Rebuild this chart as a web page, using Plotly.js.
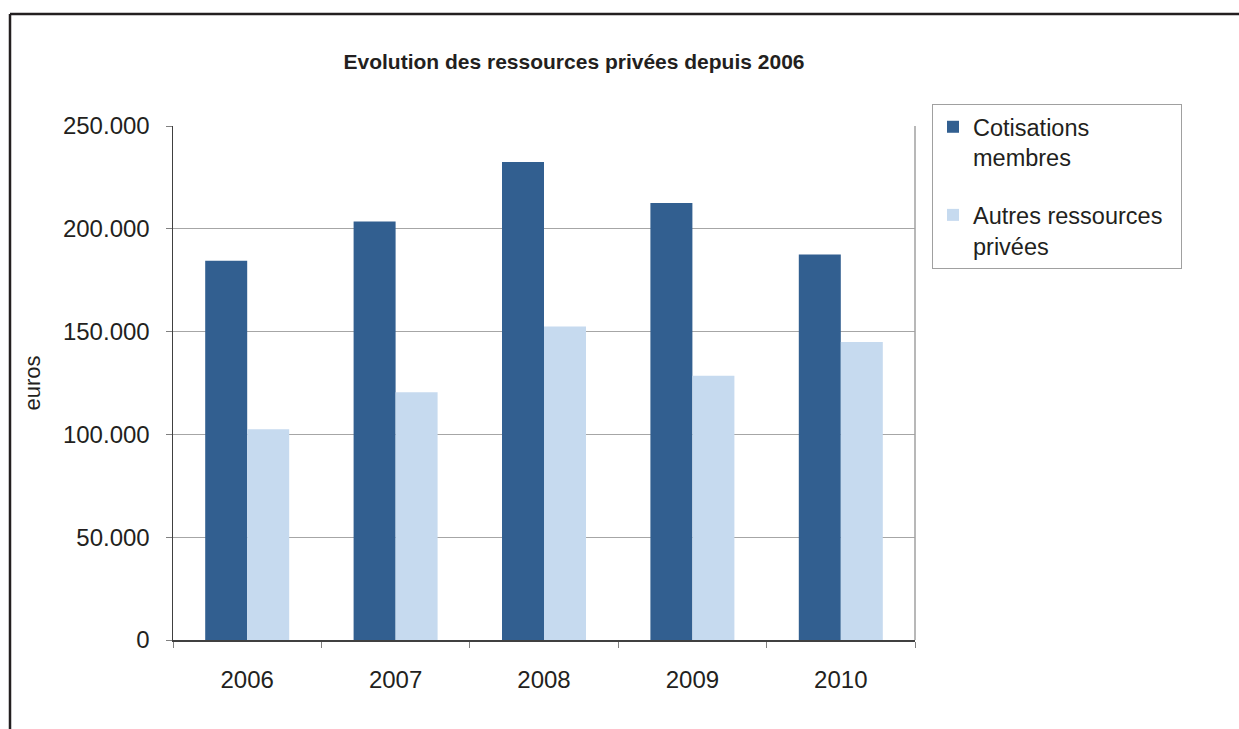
<!DOCTYPE html>
<html>
<head>
<meta charset="utf-8">
<script src="https://cdn.plot.ly/plotly-3.0.1.min.js"></script>
<style>html,body{margin:0;padding:0;background:#fff;}#chart{width:1239px;height:729px;}</style>
</head>
<body>
<div id="chart"></div>
<script>
const years = ['2006', '2007', '2008', '2009', '2010'];
const cotisationsMembres = [184500, 203500, 232500, 212500, 187500];
const autresRessources = [102500, 120500, 152500, 128500, 145000];
const seriesNames = ['Cotisations<br>membres', 'Autres ressources&nbsp;&nbsp;<br>privées'];
const yTicks = [0, 50000, 100000, 150000, 200000, 250000];

const traces = [
  {type: 'bar', x: years, y: cotisationsMembres, name: seriesNames[0], legendgroup: 'a',
   marker: {color: '#325f90'}},
  {type: 'bar', x: years, y: autresRessources, name: seriesNames[1], legendgroup: 'b',
   marker: {color: '#c6daef'}}
];

const layout = {
  width: 1239, height: 729,
  margin: {l: 173, r: 324, t: 126, b: 89},
  paper_bgcolor: '#ffffff', plot_bgcolor: '#ffffff',
  separators: ',.',
  font: {family: 'Liberation Sans, Arial, sans-serif', color: '#231f20', size: 24},
  title: {text: '<b>Evolution des ressources privées depuis 2006</b>',
    font: {size: 21, color: '#231f20'}, x: (574 - 173) / 742, xref: 'paper', xanchor: 'center',
    y: 1 - 62/729, yref: 'container', yanchor: 'middle'},
  barmode: 'group', bargap: 0.434, bargroupgap: 0,
  xaxis: {type: 'category', tickson: 'boundaries', ticks: 'outside', ticklen: 6,
    tickcolor: '#808080', showline: true, linecolor: '#404040', linewidth: 1.5,
    showgrid: false, ticklabelstandoff: 18, fixedrange: true},
  yaxis: {range: [0, 250000], tickvals: yTicks, tickformat: ',d', ticks: 'outside',
    ticklen: 6, tickcolor: '#808080', showline: true, linecolor: '#404040', linewidth: 1.5,
    showgrid: true, gridcolor: '#a6a6a6', gridwidth: 1.3, zeroline: false,
    ticklabelstandoff: 11,
    title: {text: 'euros', standoff: 16, font: {size: 22}}},
  legend: {x: (932 - 173) / 742, xanchor: 'left', y: (640 - 104) / 514, yanchor: 'top',
    bordercolor: '#a0a0a0', borderwidth: 1, bgcolor: '#ffffff',
    font: {size: 23.5}, valign: 'top', tracegroupgap: 24, itemwidth: 30},
  showlegend: true,
  shapes: [
    {type: 'line', xref: 'paper', yref: 'paper', x0: 1, x1: 1, y0: 0, y1: 1,
     line: {color: '#a0a0a0', width: 1.5}},
    {type: 'line', xref: 'paper', yref: 'paper', x0: (10 - 173) / 742, x1: (1260 - 173) / 742,
     y0: (640 - 14) / 514, y1: (640 - 14) / 514, line: {color: '#231f20', width: 2.5}},
    {type: 'line', xref: 'paper', yref: 'paper', x0: (10 - 173) / 742, x1: (10 - 173) / 742,
     y0: (640 - 14) / 514, y1: (640 - 760) / 514, line: {color: '#231f20', width: 2.5}}
  ]
};

Plotly.newPlot('chart', traces, layout, {displayModeBar: false, staticPlot: true});
</script>
</body>
</html>
